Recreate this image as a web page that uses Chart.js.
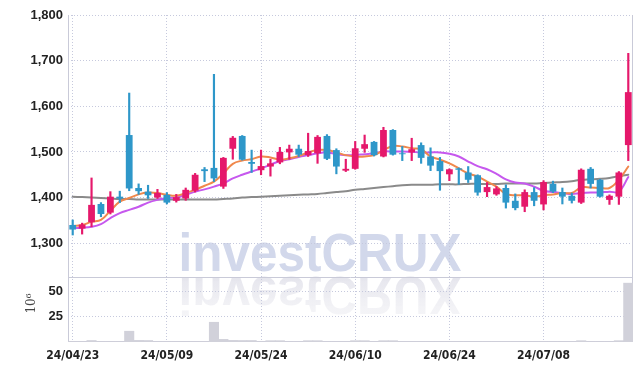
<!DOCTYPE html>
<html>
<head>
<meta charset="utf-8">
<script src="https://cdn.jsdelivr.net/npm/chart.js@4.4.1/dist/chart.umd.min.js"></script>
<style>
  html, body { margin: 0; padding: 0; background: #fff; }
  canvas { display: block; }
</style>
</head>
<body>
<canvas id="chart" width="642" height="371"></canvas>
<script>
// Дані свічок, ковзних середніх та обсягів.
const dates = [
  "24/04/23","24/04/24","24/04/25","24/04/26","24/04/29","24/04/30","24/05/02","24/05/03","24/05/07","24/05/08",
  "24/05/09","24/05/10","24/05/13","24/05/14","24/05/16","24/05/17","24/05/20","24/05/21","24/05/22","24/05/23",
  "24/05/24","24/05/27","24/05/28","24/05/29","24/05/30","24/05/31","24/06/03","24/06/04","24/06/05","24/06/07",
  "24/06/10","24/06/11","24/06/12","24/06/13","24/06/14","24/06/17","24/06/18","24/06/19","24/06/20","24/06/21",
  "24/06/24","24/06/25","24/06/26","24/06/27","24/06/28","24/07/01","24/07/02","24/07/03","24/07/04","24/07/05",
  "24/07/08","24/07/09","24/07/10","24/07/11","24/07/12","24/07/15","24/07/16","24/07/17","24/07/18","24/07/19",
];
const opens = [
  1340,1332,1346,1386,1367,1402,1537,1421,1413,1400, 1406,1393,1398,1415,1462,1465,1424,1507,1535,1478,
  1460,1468,1477,1499,1507,1493,1497,1535,1504,1459, 1463,1507,1522,1490,1548,1497,1499,1515,1490,1480,
  1451,1464,1455,1449,1412,1407,1421,1393,1380,1412, 1385,1430,1412,1404,1389,1463,1439,1395,1402,1515,
];
const highs = [
  1351,1344,1443,1389,1413,1414,1629,1430,1427,1418, 1411,1407,1421,1453,1466,1670,1488,1534,1536,1504,
  1504,1484,1510,1515,1515,1541,1536,1538,1507,1484, 1523,1537,1523,1554,1549,1512,1530,1520,1509,1488,
  1463,1465,1468,1450,1433,1424,1428,1408,1417,1422, 1437,1436,1421,1410,1463,1466,1440,1406,1457,1716,
];
const lows = [
  1318,1320,1336,1358,1364,1389,1415,1407,1398,1398, 1386,1390,1394,1412,1435,1435,1420,1484,1482,1455,
  1450,1447,1474,1484,1490,1490,1475,1483,1452,1457, 1462,1499,1491,1489,1493,1481,1481,1475,1459,1416,
  1437,1429,1433,1405,1402,1405,1377,1373,1369,1382, 1373,1411,1386,1388,1387,1421,1401,1385,1385,1481,
];
const closes = [
  1330,1341,1384,1364,1402,1398,1420,1414,1405,1410, 1389,1401,1417,1450,1458,1442,1487,1531,1483,1474,
  1469,1475,1500,1507,1494,1502,1533,1485,1468,1463, 1508,1517,1493,1548,1494,1495,1506,1487,1470,1458,
  1462,1461,1439,1411,1423,1420,1389,1377,1412,1393, 1434,1413,1402,1393,1461,1430,1402,1404,1455,1631,
];
const ma5 = [
  1338,1340,1347,1351,1371,1391,1399,1407,1411,1410, 1406,1404,1410,1417,1426,1435,1453,1474,1481,1484,
  1490,1488,1483,1486,1491,1499,1504,1504,1499,1493, 1490,1490,1493,1504,1513,1512,1508,1506,1490,1483,
  1475,1464,1453,1446,1435,1424,1408,1405,1405,1402, 1405,1407,1410,1410,1422,1422,1421,1421,1439,1468,
];
const ma10 = [
  1333,1334,1336,1342,1355,1366,1373,1380,1389,1395, 1399,1400,1406,1413,1418,1424,1431,1442,1450,1457,
  1464,1472,1480,1484,1489,1493,1497,1499,1495,1493, 1493,1495,1497,1501,1501,1501,1500,1499,1499,1499,
  1496,1490,1479,1469,1462,1452,1440,1433,1431,1424, 1415,1412,1410,1408,1410,1411,1411,1413,1413,1445,
];
const ma60 = [
  1402,1401,1400,1399,1398,1397,1397,1396,1396,1396, 1396,1396,1396,1396,1396,1396,1397,1398,1400,1401,
  1402,1403,1404,1405,1406,1407,1408,1410,1412,1414, 1417,1419,1421,1423,1425,1427,1428,1428,1428,1429,
  1429,1429,1430,1430,1430,1430,1431,1431,1431,1431, 1432,1433,1434,1436,1439,1440,1441,1443,1447,1450,
];
// Обсяг, млн акцій
const volumes = [
  0.2,0.2,1.5,0.2,0.2,0.3,10.7,1.6,1.5,0.2, 0.2,0.2,0.3,0.2,0.3,19.6,2.6,1.6,1.5,1.5,
  0.3,1.3,1.3,0.3,0.3,1.3,1.3,0.3,0.3,0.2, 1.3,1.3,0.3,1.3,1.3,0.2,0.2,0.2,0.2,0.2,
  0.2,0.2,0.2,0.2,0.2,0.2,0.2,0.2,0.2,0.2, 0.2,0.2,0.2,0.2,1.3,0.3,0.3,0.3,1.3,58.4,
];
const priceTicks = [1300, 1400, 1500, 1600, 1700, 1800];
const volumeTicks = [25, 50];

const UP = "#e5186b", DOWN = "#2e97c9";
const GRID = "#c6c9dd", FRAME = "#c9cad8";
const candleColors = opens.map((o, i) => closes[i] >= o ? UP : DOWN);

const tickFontY = { family: "'Liberation Sans', Arial, sans-serif", size: 13, weight: "bold" };
const tickFontX = { family: "'DejaVu Sans Condensed', 'Liberation Sans', sans-serif", size: 12, weight: "bold" };

// Водяний знак із віддзеркаленням — під сіткою.
const watermark = {
  id: "watermark",
  beforeDraw(chart) {
    const ctx = chart.ctx;
    const cx = 320, base = 271, mirror = 274;
    ctx.save();
    ctx.font = "bold 54px 'Liberation Sans', Arial, sans-serif";
    ctx.textAlign = "center";
    ctx.textBaseline = "alphabetic";
    ctx.save();
    ctx.translate(cx, 0);
    ctx.scale(0.915, 1);
    ctx.fillStyle = "#d2d8eb";
    ctx.fillText("investCRUX", 0, base);
    ctx.restore();

    ctx.save();
    ctx.translate(cx, 2 * mirror);
    ctx.scale(0.915, -1);
    const g = ctx.createLinearGradient(0, base, 0, base - 42);
    g.addColorStop(0, "rgba(228,228,236,0.95)");
    g.addColorStop(1, "rgba(240,240,244,0.6)");
    ctx.fillStyle = g;
    ctx.fillText("investCRUX", 0, base);
    ctx.restore();
    ctx.restore();
  },
};

// Рамка: ліва, права, нижня межі та роздільник між цінами й обсягом.
const frame = {
  id: "frame",
  beforeDatasetsDraw(chart) {
    const { ctx, chartArea: a } = chart;
    const sep = chart.scales.yv.top;
    ctx.save();
    ctx.strokeStyle = FRAME;
    ctx.lineWidth = 1;
    ctx.beginPath();
    ctx.moveTo(a.left + 0.5, a.top); ctx.lineTo(a.left + 0.5, a.bottom);
    ctx.moveTo(a.right - 0.5, a.top); ctx.lineTo(a.right - 0.5, a.bottom);
    ctx.moveTo(a.left, a.bottom - 0.5); ctx.lineTo(a.right, a.bottom - 0.5);
    ctx.moveTo(a.left, Math.round(sep) + 0.5); ctx.lineTo(a.right, Math.round(sep) + 0.5);
    ctx.stroke();
    ctx.restore();
  },
};

const lineBase = { type: "line", yAxisID: "y", pointRadius: 0, borderWidth: 2, tension: 0.4,
                   fill: false, borderCapStyle: "round" };

new Chart(document.getElementById("chart"), {
  type: "bar",
  data: {
    labels: dates,
    datasets: [
      { label: "body", data: opens.map((o, i) => [o, closes[i]]), yAxisID: "y",
        backgroundColor: candleColors, barPercentage: 0.72, categoryPercentage: 1,
        grouped: false, order: 0 },
      { label: "wick", data: lows.map((l, i) => [l, highs[i]]), yAxisID: "y",
        backgroundColor: candleColors, barThickness: 1.5, grouped: false, order: 1 },
      { ...lineBase, label: "MA5",  data: ma5,  borderColor: "#f0884c", order: 2 },
      { ...lineBase, label: "MA10", data: ma10, borderColor: "#c658ee", order: 3 },
      { ...lineBase, label: "MA60", data: ma60, borderColor: "#8a8a8a", order: 4 },
      { label: "volume", data: volumes, yAxisID: "yv", backgroundColor: "#d1d1da",
        barPercentage: 1, categoryPercentage: 1, grouped: false, order: 5 },
    ],
  },
  options: {
    responsive: false,
    animation: false,
    devicePixelRatio: 1,
    layout: { padding: { left: 18, right: 9, top: 15, bottom: 7 } },
    plugins: { legend: { display: false }, tooltip: { enabled: false } },
    scales: {
      x: {
        type: "category", offset: true,
        grid: { offset: false, color: GRID, drawTicks: false },
        border: { display: false, dash: [1, 2] },
        ticks: { autoSkip: false, maxRotation: 0, padding: 7, color: "#222", font: tickFontX,
                 callback: (v, i) => (i % 10 === 0 ? dates[i] : null) },
        afterFit: (s) => { s.height = 22; },
      },
      yv: {
        position: "left", stack: "panes", stackWeight: 65, weight: 0, offset: false,
        min: 0, max: 64.5,
        grid: { color: GRID, drawTicks: false },
        border: { display: false, dash: [1, 2] },
        ticks: { padding: 5, color: "#222", font: tickFontY },
        afterBuildTicks: (s) => { s.ticks = volumeTicks.map((v) => ({ value: v })); },
        title: { display: true, text: "\u2002\u200210\u2076", color: "#444",
                 font: { family: "'DejaVu Serif', serif", size: 12 }, padding: { top: 7, bottom: 0 } },
        afterFit: (s) => { s.width = 50; },
      },
      y: {
        position: "left", stack: "panes", stackWeight: 262, weight: 1, offset: false,
        min: 1226, max: 1800,
        grid: { color: GRID, drawTicks: false },
        border: { display: false, dash: [1, 2] },
        ticks: { padding: 5, color: "#222", font: tickFontY,
                 callback: (v) => v.toLocaleString("en-US") },
        afterBuildTicks: (s) => { s.ticks = priceTicks.map((v) => ({ value: v })); },
        afterFit: (s) => { s.width = 50; },
      },
    },
  },
  plugins: [watermark, frame],
});
</script>
</body>
</html>
